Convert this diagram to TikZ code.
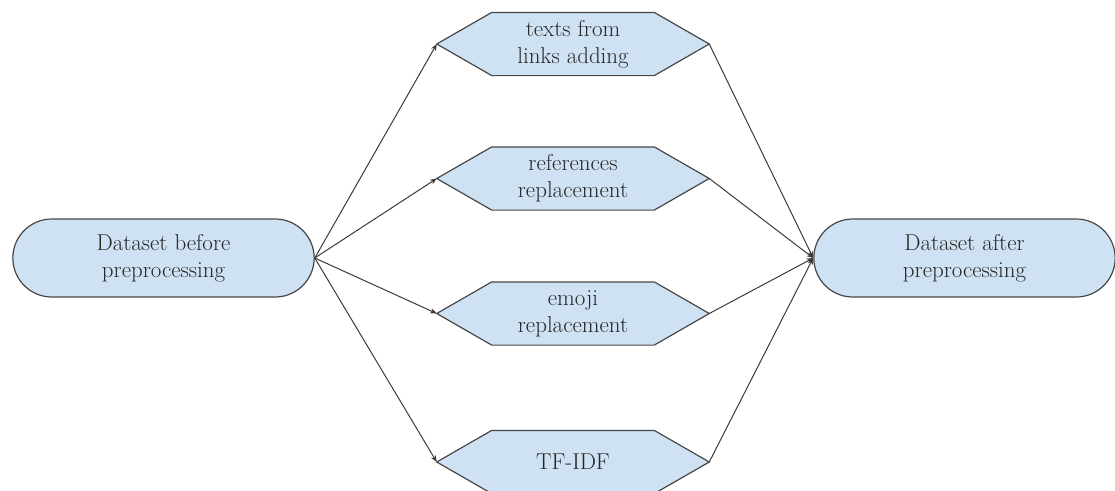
\documentclass[tikz,border=0pt]{standalone}
\usetikzlibrary{shapes.misc,arrows.meta,calc}
\pgfdeclarelayer{background}
\pgfsetlayers{background,main}
\definecolor{boxfill}{HTML}{CFE2F3}
\definecolor{boxline}{HTML}{474747}
\definecolor{arrline}{HTML}{3A3A3A}
\definecolor{txt}{HTML}{262626}
\tikzset{
  stadium/.style={rounded rectangle, draw=boxline, fill=boxfill, line width=0.9pt,
    minimum width=226pt, minimum height=58.5pt, inner sep=0pt, text=txt,
    align=center, font=\fontsize{17.2}{20.25}\selectfont},
  hexcore/.style={minimum width=121.5pt, minimum height=47pt, inner sep=0pt, text=txt,
    align=center, font=\fontsize{17.2}{20.25}\selectfont},
  hexpath/.style={draw=boxline, fill=boxfill, line width=0.9pt, line join=miter},
  conn/.style={draw=arrline, line width=0.75pt, -{Stealth[length=5pt,width=4pt]}}
}
\begin{document}
\begin{tikzpicture}[x=0.75pt,y=-0.75pt]
\useasboundingbox (0,0) rectangle (1115,490);
\begin{scope}
\clip (0,0) rectangle (1115,490);
\node[stadium] (src) at (163.5,258) {Dataset before\\preprocessing};
\node[stadium] (dst) at (964.5,258) {Dataset after\\preprocessing};
\node[hexcore] (h1) at (573,44) {texts from\\links adding};
\node[hexcore] (h2) at (573,178.5) {references\\replacement};
\node[hexcore] (h3) at (573,313.5) {emoji\\replacement};
\node[hexcore] (h4) at (573,462) {TF-IDF};
\foreach \h in {h1,h2,h3,h4}{
  \coordinate (\h l) at ($(\h.west)+(-55,0)$);
  \coordinate (\h r) at ($(\h.east)+(55,0)$);
  \begin{pgfonlayer}{background}
  \path[hexpath] (\h.north west) -- (\h.north east) -- (\h r) -- (\h.south east)
    -- (\h.south west) -- (\h l) -- cycle;
  \end{pgfonlayer}
}
\foreach \h in {h1,h2,h3,h4}{
  \draw[conn] (src.east) -- (\h l);
  \draw[conn] (\h r) -- (dst.west);
}
\end{scope}
\end{tikzpicture}
\end{document}
